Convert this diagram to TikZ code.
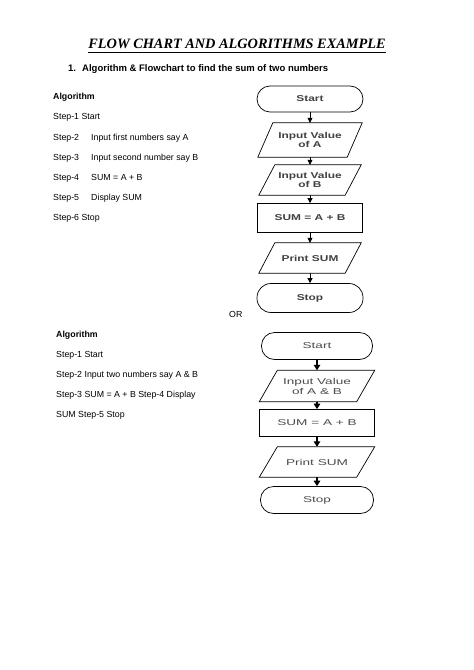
\documentclass[tikz,border=0pt]{standalone}
\usepackage{fontspec}
\setmainfont{Liberation Sans}
\newfontfamily\titlefont{Liberation Serif}
\newfontfamily\fcfont[FakeStretch=1.4]{Liberation Sans}
\newfontfamily\fcfontb[FakeStretch=1.6]{Liberation Sans}
\usetikzlibrary{arrows.meta,calc}
\begin{document}
\begin{tikzpicture}[x=1bp,y=-1bp,
  txt/.style={anchor=base west, inner sep=0, font=\fontsize{8.8bp}{10bp}\selectfont},
  boldtxt/.style={txt, font=\bfseries\fontsize{8.8bp}{10bp}\selectfont},
  headtxt/.style={anchor=base west, inner sep=0, font=\bfseries\fontsize{9.5bp}{11bp}\selectfont},
  fcone/.style={font=\fcfont\bfseries\fontsize{8.5bp}{9bp}\selectfont, text=black!75, align=center, inner sep=0},
  fctwo/.style={font=\fcfontb\fontsize{8.5bp}{10bp}\selectfont, text=black!70, align=center, inner sep=0},
  termbox/.style={draw, line width=0.7bp, rounded corners=13bp},
  procbox/.style={draw, line width=0.7bp},
  parabox/.style={draw=none},
  arrone/.style={-{Triangle[width=5bp,length=5bp]}, line width=0.7bp},
  arrtwo/.style={-{Triangle[width=6.5bp,length=5.5bp]}, line width=1.5bp},
  paraline/.style={line width=0.7bp}
]
\useasboundingbox[fill=white] (0,0) rectangle (474,670);

% title
\node[anchor=base, inner sep=0, font=\titlefont\bfseries\itshape\fontsize{14.3bp}{16bp}\selectfont] (title) at (237,49) {FLOW CHART AND ALGORITHMS EXAMPLE};
\draw[line width=0.9bp] ([yshift=-3bp]title.base west) -- ([yshift=-3bp]title.base east);

\node[headtxt] (h1) at (68,72) {1.};
\node[headtxt] (h2) at (82,72) {Algorithm \& Flowchart to find the sum of two numbers};

% first algorithm
\node[boldtxt] (alg1) at (53,100) {Algorithm};
\node[txt] (s11) at (53,120) {Step-1 Start};
\node[txt] (s12) at (53,140) {Step-2};
\node[txt] (s12b) at (91,140) {Input first numbers say A};
\node[txt] (s13) at (53,160) {Step-3};
\node[txt] (s13b) at (91,160) {Input second number say B};
\node[txt] (s14) at (53,180) {Step-4};
\node[txt] (s14b) at (91,180) {SUM = A + B};
\node[txt] (s15) at (53,200) {Step-5};
\node[txt] (s15b) at (91,200) {Display SUM};
\node[txt] (s16) at (53,220) {Step-6 Stop};

\node[txt] (or) at (229,317) {OR};

% second algorithm
\node[boldtxt] (alg2) at (56,337) {Algorithm};
\node[txt] (s21) at (56,357) {Step-1 Start};
\node[txt] (s22) at (56,377) {Step-2 Input two numbers say A \& B};
\node[txt] (s23) at (56,397) {Step-3 SUM = A + B Step-4 Display};
\node[txt] (s24) at (56,417) {SUM Step-5 Stop};

% flowchart 1
\node[termbox, fcone, minimum width=106bp, minimum height=26bp] (start1) at (310,99) {Start};
\node[parabox, fcone, minimum width=89bp, minimum height=34bp] (inA) at (310,140) {Input Value\\of A};
\node[parabox, fcone, minimum width=86bp, minimum height=30bp] (inB) at (310,180) {Input Value\\of B};
\node[procbox, fcone, minimum width=105bp, minimum height=29bp] (sum1) at (310,218) {SUM = A + B};
\node[parabox, fcone, minimum width=86bp, minimum height=30bp] (print1) at (310,258) {Print SUM};
\node[termbox, fcone, rounded corners=14bp, minimum width=106bp, minimum height=29bp] (stop1) at (310,298) {Stop};

% flowchart 2
\node[termbox, fctwo, minimum width=111bp, minimum height=27bp] (start2) at (317,346) {Start};
\node[parabox, fctwo, minimum width=97bp, minimum height=31bp] (inAB) at (317,386) {Input Value\\of A \& B};
\node[procbox, fctwo, minimum width=115bp, minimum height=27bp] (sum2) at (317,423) {SUM = A + B};
\node[parabox, fctwo, minimum width=97bp, minimum height=30bp] (print2) at (317,462) {Print SUM};
\node[termbox, fctwo, minimum width=113bp, minimum height=27bp] (stop2) at (317,500) {Stop};

% parallelogram outlines
\foreach \n/\s in {inA/7.5bp, inB/8bp, print1/8bp, inAB/9bp, print2/9bp}
  \draw[paraline] ([xshift=\s]\n.north west) -- ([xshift=\s]\n.north east) -- ([xshift=-\s]\n.south east) -- ([xshift=-\s]\n.south west) -- cycle;

% connectors
\draw[arrone] (start1) -- (inA);
\draw[arrone] (inA) -- (inB);
\draw[arrone] (inB) -- (sum1);
\draw[arrone] (sum1) -- (print1);
\draw[arrone] (print1) -- (stop1);

\draw[arrtwo] (start2) -- (inAB);
\draw[arrtwo] (inAB) -- (sum2);
\draw[arrtwo] (sum2) -- (print2);
\draw[arrtwo] (print2) -- (stop2);
\end{tikzpicture}
\end{document}
